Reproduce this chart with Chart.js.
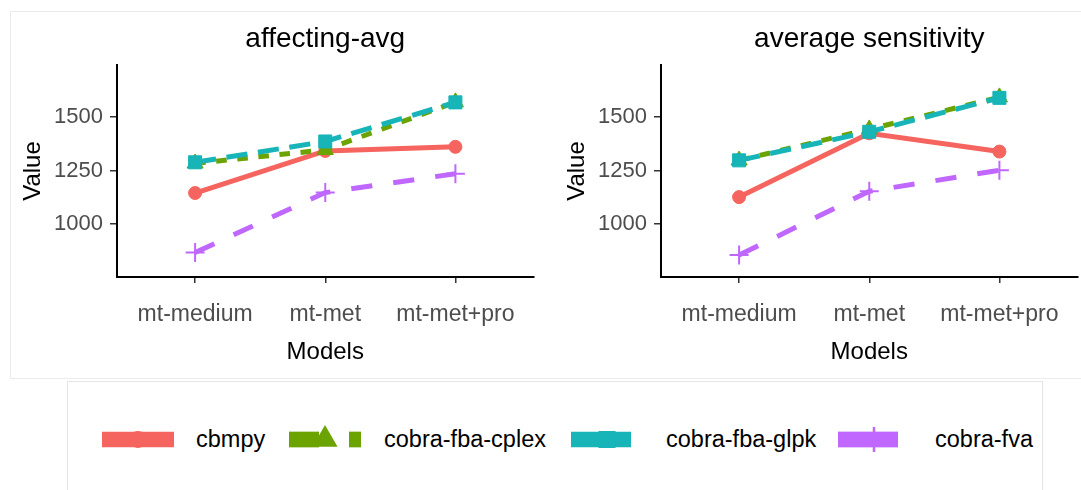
<!DOCTYPE html>
<html>
<head>
<meta charset="utf-8">
<script src="https://cdn.jsdelivr.net/npm/chart.js"></script>
<style>
	body { margin:0; width:1081px; height:490px; overflow:hidden; background:#fff; position:relative; font-family:"Liberation Sans", Arial, sans-serif; }
	#plotBox { position:absolute; left:10px; top:11px; width:1100px; height:366px; border:1px solid #ebebeb; }
	.chartWrap { position:absolute; top:11px; }
	#legendBox { position:absolute; left:67px; top:381px; width:974px; height:150px; border:1px solid #e5e5e5; }
	.key { position:absolute; top:420px; }
	.keyText { position:absolute; top:428px; font-size:23.5px; line-height:23px; color:#000; white-space:nowrap; }
</style>
</head>
<body>
<div id="plotBox"></div>
<div class="chartWrap" style="left:10px"><canvas id="chartAvg" width="535" height="367"></canvas></div>
<div class="chartWrap" style="left:554px"><canvas id="chartSens" width="535" height="367"></canvas></div>
<div id="legendBox"></div>
<div id="legend"></div>
<script>
var models = ['mt-medium', 'mt-met', 'mt-met+pro'];
var seriesNames = ['cbmpy', 'cobra-fba-cplex', 'cobra-fba-glpk', 'cobra-fva'];
var yTicks = [1000, 1250, 1500];

// affecting-avg
var avgCbmpy = [1145, 1341, 1360];
var avgCplex = [1283, 1346, 1568];
var avgGlpk = [1288, 1385, 1567];
var avgFva = [868, 1147, 1235];

// average sensitivity
var sensCbmpy = [1126, 1423, 1338];
var sensCplex = [1297, 1442, 1591];
var sensGlpk = [1297, 1430, 1588];
var sensFva = [856, 1153, 1251];

// look of each series (ggplot default hues, shapes and linetypes)
var seriesColors = ['#F5645E', '#6BA300', '#17B4B8', '#BF67FF'];
var seriesShapes = ['circle', 'triangle', 'rect', 'cross'];
var seriesDash = [[], [2, 2], [4, 2], [4, 4]];
var pointSizes = [6.5, 9.3, 9.2, 9.5];

var fontFamily = '"Liberation Sans", Arial, sans-serif';

function makeChart(canvasId, titleText, values) {
	var datasets = [];
	for (var i = 0; i < seriesNames.length; i++) {
		datasets.push({
			label: seriesNames[i],
			data: values[i].map(function(v, j) { return {x: j + 1, y: v}; }),
			borderColor: seriesColors[i],
			backgroundColor: seriesColors[i],
			borderWidth: 5,
			borderDash: seriesDash[i].map(function(d) { return d * 5.3; }),
			borderCapStyle: 'butt',
			pointStyle: seriesShapes[i],
			pointRadius: pointSizes[i],
			pointBackgroundColor: seriesColors[i],
			pointBorderColor: seriesColors[i],
			pointBorderWidth: seriesShapes[i] == 'cross' ? 2 : 1,
			order: seriesNames.length - i,
			tension: 0
		});
	}

	return new Chart(document.getElementById(canvasId), {
		type: 'line',
		data: { datasets: datasets },
		options: {
			responsive: false,
			animation: false,
			layout: { padding: 0 },
			plugins: {
				legend: { display: false },
				tooltip: { enabled: false },
				title: { display: false }
			},
			scales: {
				x: {
					type: 'linear',
					min: 0.4,
					max: 3.6,
					afterBuildTicks: function(scale) {
						scale.ticks = models.map(function(m, i) { return {value: i + 1}; });
					},
					afterFit: function(scale) { scale.height = 101; },
					ticks: {
						font: { size: 23, family: fontFamily },
						color: '#4D4D4D',
						padding: 18,
						maxRotation: 0,
						autoSkip: false,
						callback: function(v) { return models[v - 1]; }
					},
					grid: { drawOnChartArea: false, tickLength: 6, color: '#333', lineWidth: 1.5 },
					border: { display: true, color: '#000', width: 2 },
					title: {
						display: true,
						text: 'Models',
						font: { size: 24, family: fontFamily },
						color: '#000',
						padding: { top: 0, bottom: 11 }
					}
				},
				// only used to center the panel title over the plot area
				xTitle: {
					type: 'linear',
					axis: 'x',
					position: 'top',
					min: 0.4,
					max: 3.6,
					ticks: { display: false },
					grid: { display: false },
					border: { display: false },
					afterFit: function(scale) { scale.height = 54; },
					title: {
						display: true,
						text: titleText,
						font: { size: 28, family: fontFamily },
						color: '#000',
						padding: { top: 11, bottom: 0 }
					}
				},
				y: {
					type: 'linear',
					min: 754,
					max: 1741,
					afterBuildTicks: function(scale) {
						scale.ticks = yTicks.map(function(v) { return {value: v}; });
					},
					afterFit: function(scale) { scale.width = 107; },
					ticks: {
						font: { size: 22, family: fontFamily },
						color: '#4D4D4D',
						padding: 7,
						callback: function(v) { return String(v); }
					},
					grid: { drawOnChartArea: false, tickLength: 7, color: '#333', lineWidth: 1.5 },
					border: { display: true, color: '#000', width: 2 },
					title: {
						display: true,
						text: 'Value',
						font: { size: 24, family: fontFamily },
						color: '#000',
						padding: { top: 9, bottom: 0 }
					}
				}
			}
		}
	});
}

makeChart('chartAvg', 'affecting-avg', [avgCbmpy, avgCplex, avgGlpk, avgFva]);
makeChart('chartSens', 'average sensitivity', [sensCbmpy, sensCplex, sensGlpk, sensFva]);

// legend below both panels
var keyLeft = [102, 289, 571, 838];
var textLeft = [196, 384, 666, 935];

function drawMarker(ctx, shape, x, y, r) {
	ctx.beginPath();
	if (shape == 'circle') {
		ctx.arc(x, y, r, 0, Math.PI * 2);
		ctx.fill();
	} else if (shape == 'triangle') {
		ctx.moveTo(x, y - r);
		ctx.lineTo(x + r * 0.866, y + r / 2);
		ctx.lineTo(x - r * 0.866, y + r / 2);
		ctx.closePath();
		ctx.fill();
	} else if (shape == 'rect') {
		ctx.rect(x - r, y - r, r * 2, r * 2);
		ctx.fill();
	} else {
		ctx.lineWidth = 2.5;
		ctx.moveTo(x - r, y);
		ctx.lineTo(x + r, y);
		ctx.moveTo(x, y - r);
		ctx.lineTo(x, y + r);
		ctx.stroke();
	}
}

var legendMarkerSize = [8.5, 14.5, 8.5, 12.5];
var legend = document.getElementById('legend');
for (var i = 0; i < seriesNames.length; i++) {
	var c = document.createElement('canvas');
	c.width = 80;
	c.height = 40;
	c.className = 'key';
	c.style.left = keyLeft[i] + 'px';
	legend.appendChild(c);

	var ctx = c.getContext('2d');
	ctx.strokeStyle = seriesColors[i];
	ctx.fillStyle = seriesColors[i];
	ctx.lineWidth = 15.7;
	ctx.lineCap = 'butt';
	ctx.setLineDash(seriesDash[i].map(function(d) { return d * 15; }));
	ctx.beginPath();
	ctx.moveTo(0, 19.5);
	ctx.lineTo(72, 19.5);
	ctx.stroke();
	ctx.setLineDash([]);
	drawMarker(ctx, seriesShapes[i], 36, 19.5, legendMarkerSize[i]);

	var t = document.createElement('span');
	t.className = 'keyText';
	t.style.left = textLeft[i] + 'px';
	t.textContent = seriesNames[i];
	legend.appendChild(t);
}
</script>
</body>
</html>
